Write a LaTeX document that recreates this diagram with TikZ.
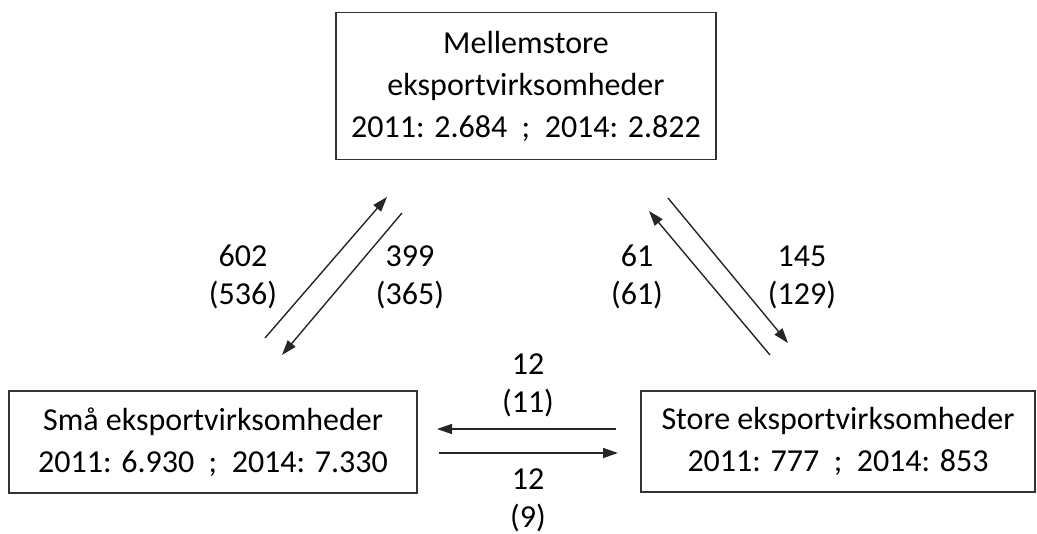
\documentclass[tikz,border=0pt]{standalone}
\usepackage{fontspec}
\setmainfont{Carlito}
\usetikzlibrary{arrows.meta}
\begin{document}
\begin{tikzpicture}[x=1pt,y=-1pt,
  box/.style={draw=black!80,line width=1.3pt,align=center,inner sep=0pt,
    font=\fontsize{32}{42}\selectfont},
  lbl/.style={align=center,inner sep=0pt,font=\fontsize{32}{38}\selectfont},
  arr/.style={draw=black!85,line width=1.4pt,-{Triangle[length=15pt,width=10pt]}}]
\useasboundingbox (0,0) rectangle (1037,534);
\node[box,minimum width=380pt,minimum height=147pt] (mid) at (526,86)
  {Mellemstore\\eksportvirksomheder\\2011: 2.684\ \ ;\ \ 2014: 2.822};
\node[box,minimum width=408pt,minimum height=102pt] (small) at (213,442)
  {Små eksportvirksomheder\\2011: 6.930\ \ ;\ \ 2014: 7.330};
\node[box,minimum width=394pt,minimum height=101pt] (large) at (838,441.5)
  {Store eksportvirksomheder\\2011: 777\ \ ;\ \ 2014: 853};
% arrow end points
\coordinate (a1) at (265,338); \coordinate (a2) at (387,197);
\coordinate (b1) at (402,213); \coordinate (b2) at (282,355);
\coordinate (c1) at (770,355); \coordinate (c2) at (649,211);
\coordinate (d1) at (668,198); \coordinate (d2) at (788,343);
\coordinate (e1) at (616,429); \coordinate (e2) at (437,429);
\coordinate (f1) at (439,453); \coordinate (f2) at (618,453);
\draw[arr] (a1) -- (a2);
\draw[arr] (b1) -- (b2);
\draw[arr] (c1) -- (c2);
\draw[arr] (d1) -- (d2);
\draw[arr] (e1) -- (e2);
\draw[arr] (f1) -- (f2);
\node[lbl] (l602) at (243,277) {602\\(536)};
\node[lbl] (l399) at (410,277) {399\\(365)};
\node[lbl] (l61) at (637,277) {61\\(61)};
\node[lbl] (l145) at (802,277) {145\\(129)};
\node[lbl] (l12a) at (528,385) {12\\(11)};
\node[lbl] (l12b) at (528,500) {12\\(9)};
\end{tikzpicture}
\end{document}
